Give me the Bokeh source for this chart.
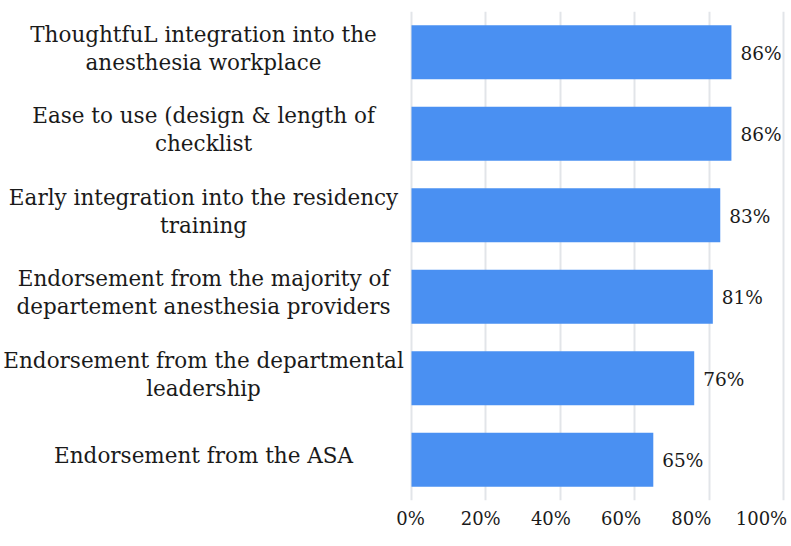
from bokeh.plotting import figure
from bokeh.models import FactorRange, Range1d, LinearAxis, FixedTicker, Grid, ColumnDataSource
from bokeh.core.properties import value
from bokeh.embed import file_html
from bokeh.resources import INLINE

categories = [
    "ThoughtfuL integration into the\nanesthesia workplace",
    "Ease to use (design & length of\nchecklist",
    "Early integration into the residency\ntraining",
    "Endorsement from the majority of\ndepartement anesthesia providers",
    "Endorsement from the departmental\nleadership",
    "Endorsement from the ASA",
]
values = [86, 86, 83, 81, 76, 65]
value_labels = ["86%", "86%", "83%", "81%", "76%", "65%"]
tick_values = [0, 20, 40, 60, 80, 100]
tick_labels = ["0%", "20%", "40%", "60%", "80%", "100%"]

src = ColumnDataSource(dict(cat=categories, val=values, lab=value_labels))

FONT = "DejaVu Serif"

p = figure(
    width=791, height=546,
    y_range=FactorRange(factors=categories[::-1]),
    x_range=Range1d(-110.48, 102.15),
    output_backend="svg", toolbar_location=None,
    x_axis_location=None, y_axis_location=None,
    min_border_left=0, min_border_right=0, min_border_top=11, min_border_bottom=46,
)
p.outline_line_color = None
p.background_fill_color = "white"
p.border_fill_color = "white"
p.grid.visible = False
p.extra_x_ranges = {"ticks": Range1d(-116.81, 108.55)}

grid = Grid(dimension=0, ticker=FixedTicker(ticks=tick_values),
            grid_line_color="#e2e5e9", grid_line_width=2)
p.add_layout(grid)

ax = LinearAxis(
    x_range_name="ticks",
    ticker=FixedTicker(ticks=tick_values),
    major_label_overrides={v: l for v, l in zip(tick_values, tick_labels)},
    axis_line_color=None, major_tick_line_color=None, minor_tick_line_color=None,
    major_tick_out=0, major_tick_in=0,
    major_label_text_font=FONT, major_label_text_font_size="18px",
    major_label_text_color="#1a1a1a", major_label_standoff=7,
)
p.add_layout(ax, "below")

p.hbar(y="cat", left=0, right="val", height=0.66, source=src,
       fill_color="#4a90f2", line_color=None)

p.text(x="val", y="cat", text="lab", source=src, x_offset=9, y_offset=1,
       text_align="left", text_baseline="middle",
       text_font=value(FONT), text_font_size="18.5px", text_color="#1a1a1a")

p.text(x=-55.9, y="cat", text="cat", source=src, y_offset=-4,
       text_align="center", text_baseline="middle", text_line_height=1.12,
       text_font=value(FONT), text_font_size="21.5px", text_color="#1a1a1a")

open("out.html", "w").write(file_html(p, INLINE))
